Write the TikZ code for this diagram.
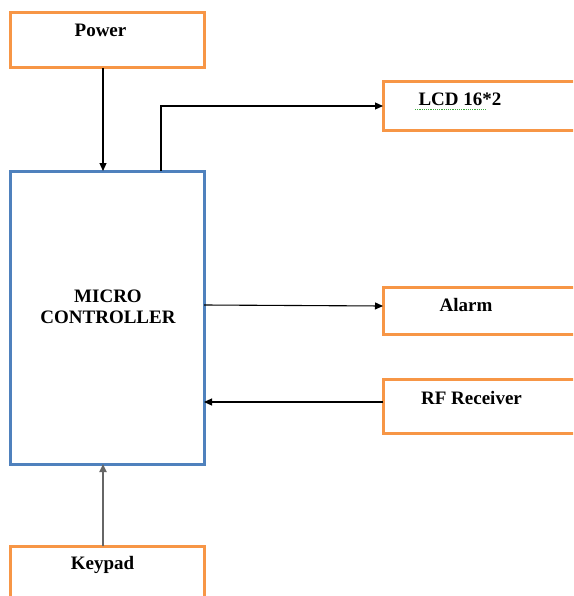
\documentclass[tikz,border=0pt]{standalone}
\usepackage{fontspec}
\setmainfont{Liberation Serif}
\usetikzlibrary{arrows.meta}
\usetikzlibrary{positioning}
\definecolor{boxorange}{RGB}{247,150,70}
\definecolor{boxblue}{RGB}{79,129,189}
\definecolor{boxgreen}{RGB}{60,170,60}

\begin{document}
\begin{tikzpicture}
          [x=1pt, y=-1pt,
           every node/.style={font=\fontsize{19}{21}\selectfont\bfseries},
           block/.style={draw=boxorange, line width=3pt},
           mcu/.style={draw=boxblue, line width=3pt},
           link/.style={line width=1.1pt, -{Triangle[length=8pt,width=7pt]}}]
          \useasboundingbox (0,0) rectangle (573,596);
          \clip (0,0) rectangle (573,596);

          % boxes
          \draw[block] (10,13) rectangle (204,68);
          \draw[block] (383,82) rectangle (580,131);
          \draw[mcu] (10,171) rectangle (204,464);
          \draw[block] (383,287) rectangle (580,334);
          \draw[block] (383,379) rectangle (580,433);
          \draw[block] (10,546) rectangle (204,604);

          % texts
          \node (power) [anchor=base] at (100.5,37) {Power};
          \node (lcd) [anchor=base] at (460,106) {LCD\ 16*2};
          \draw[draw=boxgreen, densely dotted, line width=1.2pt] (415,109.5) -- (486,109.5);
          \node (micro) [anchor=base, align=center] at (108,323) {MICRO\\CONTROLLER};
          \node (alarm) [anchor=base] at (466,311) {Alarm};
          \node (rf) [anchor=base] at (471.5,404) {RF Receiver};
          \node (keypad) [anchor=base] at (102.5,569) {Keypad};

          % connectors
          \coordinate (powerout) at (103,68);
          \coordinate (mcutop) at (103,171);
          \coordinate (lcdout) at (161,171);
          \coordinate (lcdin) at (383,106);
          \coordinate (alarmout) at (204,305);
          \coordinate (alarmin) at (383,306);
          \coordinate (rfout) at (383,402);
          \coordinate (rfin) at (204,402);
          \coordinate (keyout) at (103,546);
          \coordinate (mcubot) at (103,464);

          \draw[link] (powerout) -- (mcutop);
          \draw[link] (lcdout) |- (lcdin);
          \draw[link] (alarmout) -- (alarmin);
          \draw[link] (rfout) -- (rfin);
          \draw[link, draw=gray!80!black, fill=black, line width=1.8pt] (keyout) -- (mcubot);
        \end{tikzpicture}
\end{document}
